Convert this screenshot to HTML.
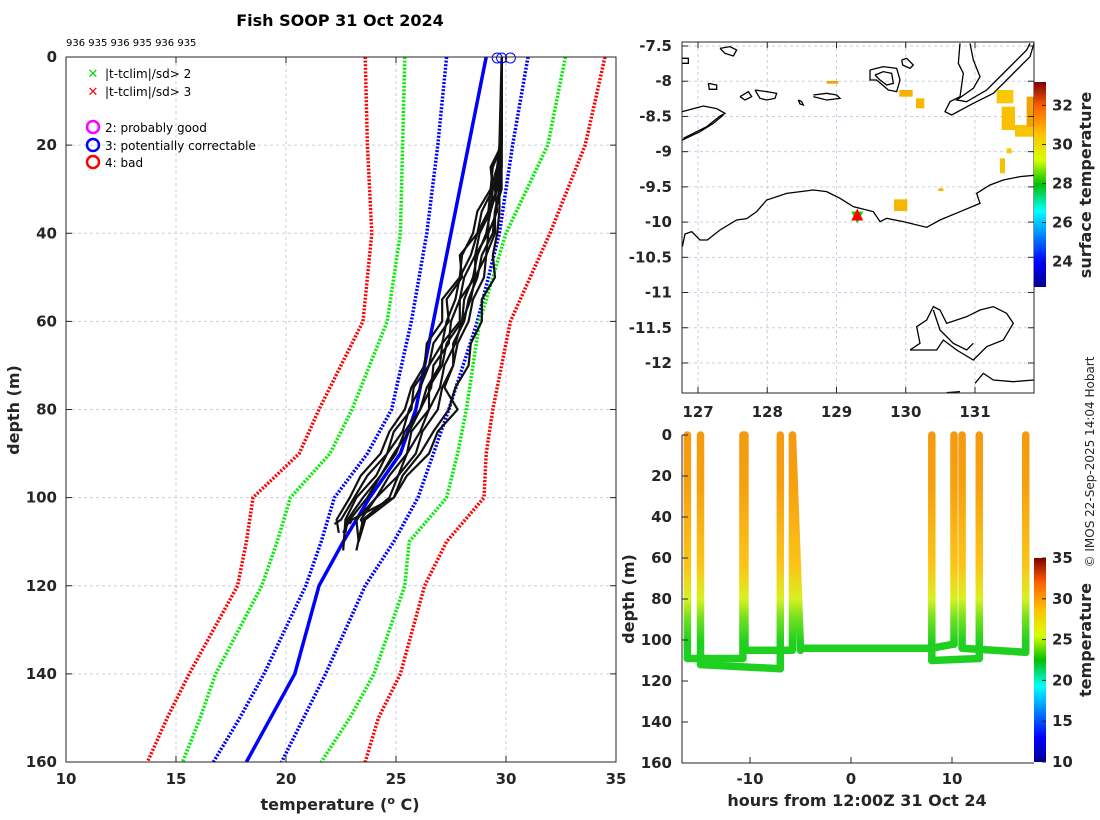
<!DOCTYPE html>
<html><head><meta charset="utf-8"><style>
body{margin:0;background:#fff;}
svg{display:block;font-family:"DejaVu Sans","Liberation Sans",sans-serif;}
.tk{font-size:15px;font-weight:bold;fill:#262626;}
.lbl{font-size:16px;font-weight:bold;fill:#262626;}
</style></head><body>
<svg id="s" width="1100" height="820" viewBox="0 0 1100 820">
<defs>
<linearGradient id="jet" x1="0" y1="1" x2="0" y2="0">
<stop offset="0" stop-color="#00008f"/><stop offset="0.12" stop-color="#0000ff"/><stop offset="0.37" stop-color="#00ffff"/><stop offset="0.5" stop-color="#00c000"/><stop offset="0.62" stop-color="#d8ff00"/><stop offset="0.75" stop-color="#ffc000"/><stop offset="0.88" stop-color="#ff6000"/><stop offset="1" stop-color="#800000"/>
</linearGradient>
<linearGradient id="trk" gradientUnits="userSpaceOnUse" x1="0" y1="435" x2="0" y2="763">
<stop offset="0" stop-color="#f59a10"/><stop offset="0.15" stop-color="#f5a010"/><stop offset="0.4" stop-color="#fbc518"/><stop offset="0.5" stop-color="#d8f020"/><stop offset="0.56" stop-color="#70e020"/><stop offset="0.63" stop-color="#20d020"/><stop offset="1" stop-color="#20d020"/>
</linearGradient>
</defs>
<text x="340" y="26" text-anchor="middle" font-size="16" font-weight="bold" fill="#000">Fish SOOP 31 Oct 2024</text>
<text x="66" y="46" font-size="10" fill="#000">936 935 936 935 936 935</text>
<g id="L"></g>
<g id="M"></g>
<g id="T"></g>
<text transform="translate(1094,462) rotate(-90)" text-anchor="middle" font-size="12" fill="#262626">© IMOS 22-Sep-2025 14:04 Hobart</text>
</svg>
<script>
const NS="http://www.w3.org/2000/svg";
// ---- profile plot data ----
const climDepths=[0,20,40,60,80,90,100,110,120,140,150,160];
const redLeft  =[23.6,23.7,23.9,23.5,21.5,20.6,18.5,18.2,17.8,15.6,14.6,13.7];
const greenLeft=[25.4,25.3,25.2,24.6,23.0,22.0,20.2,19.6,18.9,16.8,16.1,15.3];
const blueLeft =[27.3,26.9,26.4,25.7,24.8,23.7,22.2,21.6,20.9,19.0,17.9,16.7];
const blueMean =[29.1,28.3,27.5,26.7,25.9,25.2,23.8,22.6,21.5,20.4,19.3,18.2];
const blueRight=[31.0,30.3,29.7,28.7,27.4,26.7,26.0,24.9,23.6,21.8,20.8,19.8];
const greenRight=[32.7,31.9,30.0,28.8,28.2,27.8,27.3,25.6,25.4,24.0,22.9,21.6];
const redRight =[34.5,33.6,32.0,30.2,29.4,29.1,29.0,27.3,26.3,25.2,24.2,23.6];
const profDepths=[0,20,25,30,35,40,45,50,55,60,65,70,75,80,85,90,95,100,105];
const profiles=[
[29.8,29.8,29.3,29.4,28.9,28.7,27.9,28.0,27.3,27.4,26.7,26.5,25.8,25.7,24.9,24.6,23.7,23.1,22.5],
[29.8,29.8,29.7,29.4,29.3,28.8,28.6,28.1,27.9,27.5,27.4,26.7,26.6,26.1,25.6,24.9,24.3,23.5,22.8],
[29.8,29.7,29.6,29.6,29.3,29.1,28.7,28.5,28.1,28.0,27.3,27.1,26.5,26.5,25.7,25.5,24.7,24.1,23.2],
[29.8,29.8,29.7,29.7,29.5,29.5,29.1,29.0,28.5,28.3,27.8,27.6,27.1,26.9,26.2,25.9,25.1,24.7,23.5],
[29.8,29.8,29.8,29.7,29.7,29.6,29.4,29.5,28.9,28.9,28.4,28.3,27.7,27.4,26.7,26.1,25.3,24.9,23.0],
[29.8,29.8,29.4,29.3,28.7,28.5,28.0,27.9,27.1,27.1,26.4,26.3,25.7,25.4,24.7,24.3,23.4,22.9,22.3],
[29.8,29.8,29.8,29.8,29.5,29.4,28.9,28.7,28.3,28.1,27.6,27.6,27.2,27.8,26.9,26.5,25.5,24.9,23.6],
[29.8,29.8,29.6,29.3,29.2,28.7,28.4,27.9,27.7,27.3,27.1,26.5,26.1,25.6,25.3,24.6,24.1,23.2,22.7],
[29.8,29.8,29.7,29.5,29.6,29.2,29.1,28.6,28.4,28.0,27.7,27.2,27.0,26.5,26.1,25.5,25.1,24.1,23.4],
[29.8,29.8,29.8,29.6,29.2,29.2,28.6,28.6,27.9,27.9,27.1,27.0,26.4,26.1,25.4,25.0,24.3,23.7,22.9]
];
const topMarkerTemps=[29.6,29.8,30.2];
const xTicksL=[10,15,20,25,30,35];
const yTicks=[0,20,40,60,80,100,120,140,160];
// ---- map data ----
const lonTicks=[127,128,129,130,131];
const latTicks=[-7.5,-8,-8.5,-9,-9.5,-10,-10.5,-11,-11.5,-12];
const sstCbTicks=[24,26,28,30,32];
const shipLon=[129.3], shipLat=[-9.92];
// ---- track data ----
const hourTicks=[-10,0,10];
const tempCbTicks=[10,15,20,25,30,35];
// each leg: [hourStart, hourEnd, depthStart, depthEnd]
const legHour0=[-16.2,-16.2,-10.7,-14.9,-14.9,-7.0,-10.5,-10.5,-5.8,-5.8,-5.0,-5.0,8.0,8.0,10.2,10.2,8.0,8.0,12.7,11.0,11.0,17.3];
const legHour1=[-16.2,-10.7,-10.7,-14.9,-7.0,-7.0,-10.5,-5.8,-5.8,-5.0,-5.0,8.0,8.0,10.2,10.2,10.2,8.0,12.7,12.7,11.0,17.3,17.3];
const legDep0 =[0,109,109,0,112,114,0,105,105,0,105,104,104,104,102,102,104,110,109,0,104,106];
const legDep1 =[109,109,0,112,114,0,105,105,0,105,104,104,0,102,0,102,110,109,0,104,106,0];

function el(tag,attrs,parent){const e=document.createElementNS(NS,tag);for(const k in attrs)e.setAttribute(k,attrs[k]);parent.appendChild(e);return e;}
function txt(s,x,y,cls,anchor,parent){const t=el('text',{x:x,y:y,class:cls,'text-anchor':anchor},parent);t.textContent=s;return t;}

// ===== left profile plot =====
const L=document.getElementById('L');
const lx=v=>66+(v-10)*22, ly=d=>57+d*705/160;
for(const v of xTicksL){const g=el('line',{x1:lx(v),x2:lx(v),y1:57,y2:762,stroke:'#c8cfe6','stroke-dasharray':'3,3','stroke-width':1},L);}
for(const d of yTicks){const g=el('line',{x1:66,x2:616,y1:ly(d),y2:ly(d),stroke:'#c8cfe6','stroke-dasharray':'3,3','stroke-width':1},L);}
function climLine(arr,color,dash,name){
  const p=el('polyline',{points:arr.map((v,i)=>lx(v)+','+ly(climDepths[i])).join(' '),fill:'none',stroke:color,'stroke-width':3.5,'stroke-dasharray':dash?'2,1.6':'none'},L);
  
  
}
climLine(redLeft,'#ff0000',1,'clim-minus-3sd');
climLine(greenLeft,'#00ee00',1,'clim-minus-2sd');
climLine(blueLeft,'#0000ff',1,'clim-minus-1sd');
climLine(blueRight,'#0000ff',1,'clim-plus-1sd');
climLine(greenRight,'#00ee00',1,'clim-plus-2sd');
climLine(redRight,'#ff0000',1,'clim-plus-3sd');
climLine(blueMean,'#0000ff',0,'clim-mean');
profiles.forEach((pr,k)=>{
  const pts=pr.map((v,i)=>lx(v)+','+ly(profDepths[i]));
  pts.push(lx(pr[pr.length-1]-0.3+(k%3)*0.2)+','+ly(106+(k%4)*2));
  const p=el('polyline',{points:pts.join(' '),fill:'none',stroke:'#111','stroke-width':2.2,'stroke-linejoin':'round'},L);
  
  
});
topMarkerTemps.forEach(v=>{const c=el('circle',{cx:lx(v),cy:ly(0)+1,r:5,fill:'none',stroke:'#0000ff','stroke-width':1},L);
});
el('rect',{x:66,y:57,width:550,height:705,fill:'none',stroke:'#262626','stroke-width':1},L);
for(const v of xTicksL){el('line',{x1:lx(v),x2:lx(v),y1:57,y2:63,stroke:'#262626'},L);el('line',{x1:lx(v),x2:lx(v),y1:762,y2:756,stroke:'#262626'},L);
 const t=txt(String(v),lx(v),784,'tk','middle',L);}
for(const d of yTicks){el('line',{x1:66,x2:72,y1:ly(d),y2:ly(d),stroke:'#262626'},L);el('line',{x1:616,x2:610,y1:ly(d),y2:ly(d),stroke:'#262626'},L);
 const t=txt(String(d),57,ly(d)+5,'tk','end',L);}
{const t=el('text',{x:340,y:810,class:'lbl','text-anchor':'middle'},L);t.innerHTML='temperature (<tspan dy="-6" font-size="11">o</tspan><tspan dy="6"> C)</tspan>';
}
{const t=el('text',{x:0,y:0,class:'lbl','text-anchor':'middle',transform:'translate(19,410) rotate(-90)'},L);t.textContent='depth (m)';
}
// legend
const leg=el('g',{},L);
[['#00dd00','|t-tclim|/sd> 2',73],['#ff0000','|t-tclim|/sd> 3',91]].forEach(([c,s,y])=>{
 txt('✕',93,y+5,'','middle',leg).setAttribute('style','font-size:13px;font-weight:bold;fill:'+c);
 const t=txt(s,105,y+5,'','start',leg);t.setAttribute('style','font-size:12px;fill:#000');});
[['#ff00ff','2: probably good',127],['#0000ff','3: potentially correctable',145],['#ff0000','4: bad',162]].forEach(([c,s,y])=>{
 el('circle',{cx:93,cy:y,r:6,fill:'none',stroke:c,'stroke-width':2.5},leg);
 const t=txt(s,105,y+5,'','start',leg);t.setAttribute('style','font-size:12px;fill:#000');});

// ===== map =====
const M=document.getElementById('M');
const mx=lon=>698+(lon-127)*69.25, my=lat=>46+(-7.5-lat)*70.44;
for(const v of lonTicks){el('line',{x1:mx(v),x2:mx(v),y1:42,y2:393,stroke:'#c8cfe6','stroke-dasharray':'3,3'},M);}
for(const v of latTicks){el('line',{x1:682,x2:1034,y1:my(v),y2:my(v),stroke:'#c8cfe6','stroke-dasharray':'3,3'},M);}
const land=el('g',{transform:'translate(620,30) scale(0.33333)',fill:'none',stroke:'#000','stroke-width':1.3},M);

const coasts=[
'187,650 195,612 215,605 240,630 262,630 300,600 350,570 380,566 410,545 440,510 500,490 580,480 620,485 660,505 700,530 760,545 780,575 800,565 850,575 920,592 960,570 1020,545 1080,520 1070,490 1110,465 1150,450 1200,440 1242,436',
'187,245 250,228 290,236 315,250 300,258 260,290 190,325',
'187,330 240,305 280,280 310,255',
'1020,40 1015,100 1030,130 1020,200 990,215 975,245 995,255 1060,220 1120,190 1190,120 1230,80 1242,40',
'1050,40 1060,90 1080,140 1060,175 1010,210 1040,215 1100,180 1160,120 1220,60 1230,40',
'870,960 900,940 890,890 920,870 940,830 960,840 980,880 1040,860 1080,840 1120,830 1160,850 1180,880 1150,930 1100,950 1060,990 1010,960 970,930 950,960 900,960 870,960',
'940,840 960,900 1000,940 1040,960 1060,940',
'1065,1060 1090,1030 1120,1050 1180,1055 1242,1050',
'980,1088 1020,1085',
'750,120 790,110 830,115 840,150 830,185 805,180 770,150 750,150 750,120',
'765,135 790,125 815,130 820,160 800,165 780,150 765,135',
'845,90 860,85 880,105 870,115 848,105 845,90',
'265,160 290,165 290,178 268,178 265,160',
'360,200 385,185 395,200 375,210 360,200',
'405,180 440,185 470,190 465,205 440,210 420,205 405,180',
'580,195 620,190 650,195 660,205 620,210 580,200',
'300,55 330,50 350,60 340,78 315,70 300,55',
'187,85 205,85 205,100 187,100',
'535,210 545,215 550,225 540,222 535,210'];
coasts.forEach(p=>{el('polyline',{points:p,'vector-effect':'non-scaling-stroke'},land);});
const sst=el('g',{transform:'translate(620,30) scale(0.33333)'},M);

[[620,153,35,8,'#f5a000'],[838,180,40,20,'#f5b000'],[888,205,25,30,'#f5b800'],[822,508,40,35,'#f5b800'],[955,475,15,8,'#f5b000'],[1140,385,15,45,'#f8c000'],[1130,180,50,40,'#f8c800'],[1145,230,40,70,'#f8c000'],[1185,285,55,35,'#f8c400'],[1220,200,22,90,'#f5a000'],[1160,355,15,15,'#f8c800']].forEach(([x,y,w,h,c])=>el('rect',{x:x,y:y,width:w,height:h,fill:c},sst));
shipLon.forEach((lo,i)=>{
 const x=mx(lo),y=my(shipLat[i]);
 const g=el('g',{},M);
 el('polygon',{points:`${x-6},${y-5} ${x+6},${y-5} ${x},${y+7}`,fill:'#00dd00'},g);
 el('polygon',{points:`${x},${y-8} ${x+6},${y+4} ${x-6},${y+4}`,fill:'#ff0000'},g);
});
el('rect',{x:682,y:42,width:352,height:351,fill:'none',stroke:'#262626'},M);
for(const v of lonTicks){el('line',{x1:mx(v),x2:mx(v),y1:393,y2:387,stroke:'#262626'},M);el('line',{x1:mx(v),x2:mx(v),y1:42,y2:48,stroke:'#262626'},M);
 const t=txt(String(v),mx(v),417,'tk','middle',M);}
for(const v of latTicks){el('line',{x1:682,x2:688,y1:my(v),y2:my(v),stroke:'#262626'},M);el('line',{x1:1034,x2:1028,y1:my(v),y2:my(v),stroke:'#262626'},M);
 const t=txt(String(v),672,my(v)+5,'tk','end',M);}
{const cb=el('rect',{x:1034,y:82,width:12,height:205,fill:'url(#jet)'},M);}
const cy1=v=>287-(v-22.7)*205/10.5;
for(const v of sstCbTicks){el('line',{x1:1046,x2:1042,y1:cy1(v),y2:cy1(v),stroke:'#262626'},M);
 const t=txt(String(v),1052,cy1(v)+5,'tk','start',M);}
{const t=el('text',{class:'lbl','text-anchor':'middle',transform:'translate(1091,185) rotate(-90)'},M);t.textContent='surface temperature';}

// ===== track plot =====
const T=document.getElementById('T');
const tx=h=>851+h*10.1, ty=d=>435+d*328/160;
for(let i=0;i<legHour0.length;i++){
 const l=el('line',{x1:tx(legHour0[i]),x2:tx(legHour1[i]),y1:ty(legDep0[i]),y2:ty(legDep1[i])+0.01,stroke:'url(#trk)','stroke-width':7.5,'stroke-linecap':'round'},T);
 
 
}
el('polyline',{points:'682,435 682,763 1034,763',fill:'none',stroke:'#262626'},T);
for(const v of hourTicks){el('line',{x1:tx(v),x2:tx(v),y1:763,y2:757,stroke:'#262626'},T);
 const t=txt(String(v),tx(v),784,'tk','middle',T);}
for(const d of yTicks){el('line',{x1:682,x2:688,y1:ty(d),y2:ty(d),stroke:'#262626'},T);
 const t=txt(String(d),672,ty(d)+5,'tk','end',T);}
{const t=txt('hours from 12:00Z 31 Oct 24',857,806,'lbl','middle',T);}
{const t=el('text',{class:'lbl','text-anchor':'middle',transform:'translate(634,599) rotate(-90)'},T);t.textContent='depth (m)';}
{const cb=el('rect',{x:1034,y:558,width:12,height:204,fill:'url(#jet)'},T);}
const cy2=v=>762-(v-10)*204/25;
for(const v of tempCbTicks){el('line',{x1:1046,x2:1042,y1:cy2(v),y2:cy2(v),stroke:'#262626'},T);
 const t=txt(String(v),1052,cy2(v)+5,'tk','start',T);}
{const t=el('text',{class:'lbl','text-anchor':'middle',transform:'translate(1091,640) rotate(-90)'},T);t.textContent='temperature';}
</script>
</body></html>
